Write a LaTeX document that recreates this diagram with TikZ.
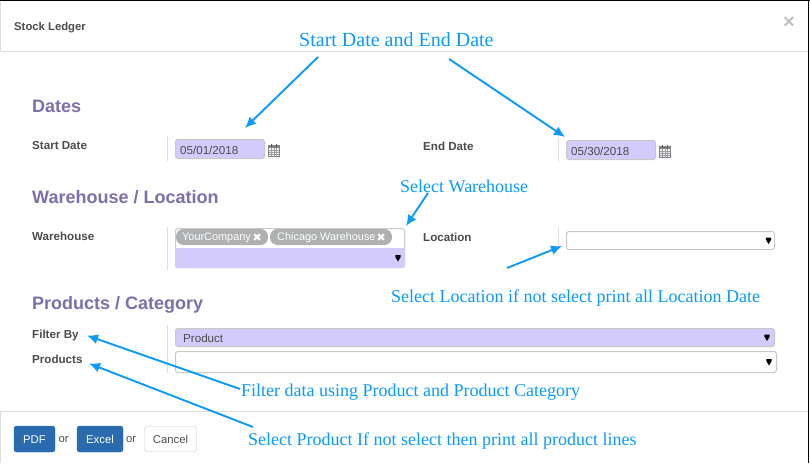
\documentclass[tikz,border=0pt]{standalone}
\usepackage{fontspec}
\setmainfont{Liberation Sans}
\newfontfamily\noteface{Liberation Serif}
\newfontfamily\symface{DejaVu Sans}
\usetikzlibrary{arrows.meta}
\definecolor{headpurple}{RGB}{124,111,171}
\definecolor{lavender}{RGB}{210,203,251}
\definecolor{noteblue}{RGB}{10,155,250}
\definecolor{btnblue}{RGB}{42,106,174}
\definecolor{tagrey}{RGB}{174,176,178}
\definecolor{labelgrey}{RGB}{76,76,76}
\definecolor{rulegrey}{RGB}{222,222,222}
\definecolor{boxgrey}{RGB}{200,200,200}
\tikzset{
	heading/.style={anchor=base west,inner sep=0,text=headpurple,font=\fontsize{18}{18}\selectfont\bfseries},
	fieldlabel/.style={anchor=base west,inner sep=0,text=labelgrey,font=\fontsize{11.6}{12}\selectfont\bfseries},
	note/.style={inner sep=0,anchor=base west,text=noteblue,font=\noteface\fontsize{18}{20}\selectfont},
	callout/.style={draw=noteblue,line width=1.9pt,-{Latex[length=11pt,width=10pt]}},
	plainbox/.style={draw=boxgrey,line width=1pt,rounded corners=2.5pt,inner sep=0,outer sep=0,anchor=north west},
	fillbox/.style={plainbox,fill=lavender},
	boxtext/.style={anchor=base west,inner sep=0,text=labelgrey,font=\fontsize{11.6}{12}\selectfont},
	tag/.style={fill=tagrey,rounded corners=7.5pt,inner sep=0,outer sep=0,anchor=north west},
	tagtext/.style={anchor=base west,inner sep=0,text=white,font=\fontsize{10.9}{12}\selectfont},
	tagcross/.style={anchor=base west,inner sep=0,text=white,font=\symface\fontsize{11}{11}\selectfont},
	button/.style={fill=btnblue,draw=btnblue,rounded corners=2.5pt,inner sep=0,outer sep=0,anchor=north west,text=white,text height=8.2pt,text depth=0pt,align=center,font=\fontsize{11.3}{12}\selectfont},
	orword/.style={anchor=base west,inner sep=0,text=labelgrey,font=\fontsize{11.3}{12}\selectfont},
	calicon/.pic={
		\draw[labelgrey!70,line width=.5pt,fill=lavender!25] (0,1.5) rectangle (10.5,12);
		\fill[labelgrey!70] (0,1.5) rectangle (10.5,4.2);
		\foreach \g in {2.6,5.2,7.9}{
			\draw[labelgrey!55,line width=.35pt] (\g,4.2) -- (\g,12);
		}
		\foreach \g in {6.2,8.2,10.2}{
			\draw[labelgrey!55,line width=.35pt] (0,\g) -- (10.5,\g);
		}
		\draw[labelgrey!90,line width=1pt] (3,0) -- (3,2.5) (7.7,0) -- (7.7,2.5);
	}
}
\begin{document}
\begin{tikzpicture}[x=1pt,y=-1pt]
	\useasboundingbox (0,0) rectangle (810,463);
	\fill[white] (0,0) rectangle (810,463);

	%frame of the dialog
	\draw[black,line width=1.2pt] (0,.6) -- (810,.6);
	\draw[black,line width=1.2pt] (808.6,0) -- (808.6,463);
	\draw[rulegrey,line width=1pt] (.5,1) -- (.5,51);
	\draw[rulegrey,line width=1pt] (.5,411) -- (.5,463);
	\draw[rulegrey,line width=1pt] (0,51.5) -- (808,51.5);
	\draw[rulegrey,line width=1pt] (0,411.5) -- (808,411.5);

	\node[anchor=base west,inner sep=0,text=labelgrey,font=\fontsize{11.3}{12}\selectfont\bfseries] (title) at (14,30) {Stock Ledger};
	\node[anchor=base west,inner sep=0,text=black!25,font=\fontsize{20}{20}\selectfont\bfseries] (closex) at (783,28) {×};

	%section headings
	\node[heading] (dates) at (32,112) {Dates};
	\node[heading] (warehead) at (32,203) {Warehouse / Location};
	\node[heading] (prodhead) at (32,309) {Products / Category};

	%labels on the left of each field
	\node[fieldlabel] (startlabel) at (32,149) {Start Date};
	\node[fieldlabel] (endlabel) at (423,150) {End Date};
	\node[fieldlabel] (warelabel) at (32,240) {Warehouse};
	\node[fieldlabel] (loclabel) at (423,241) {Location};
	\node[fieldlabel] (filterlabel) at (32,338) {Filter By};
	\node[fieldlabel] (prodlabel) at (32,363) {Products};

	%separators
	\foreach \x/\a/\b in {167.5/136/161,558.5/137/162,167.5/227/270,558.5/228/249,167.5/325/373}{
		\draw[rulegrey,line width=1pt] (\x,\a) -- (\x,\b);
	}

	%date fields
	\node[fillbox,minimum width=89pt,minimum height=19pt] (startbox) at (175.5,139.5) {};
	\node[boxtext] (starttext) at (180,154) {05/01/2018};
	\node[fillbox,minimum width=89pt,minimum height=19pt] (endbox) at (566.5,140.5) {};
	\node[boxtext] (endtext) at (571,155) {05/30/2018};
	\pic at (268.5,144) {calicon};
	\pic at (659.5,145) {calicon};

	%warehouse with its two tags
	\node[plainbox,minimum width=229pt,minimum height=39pt] (warebox) at (175.5,228.5) {};
	\fill[lavender,rounded corners=2.5pt] (175,248) rectangle (405,268);
	\node[tag,minimum width=92pt,minimum height=16pt] (tagone) at (176,229) {};
	\node[tag,minimum width=122pt,minimum height=16pt] (tagtwo) at (270,229) {};
	\node[tagtext] (tagonetext) at (182,240.5) {YourCompany};
	\node[tagcross] (tagonecross) at (252.5,241) {✖};
	\node[tagtext] (tagtwotext) at (277,240.5) {Chicago Warehouse};
	\node[tagcross] (tagtwocross) at (376.5,241) {✖};

	\node[plainbox,minimum width=208pt,minimum height=18pt] (locbox) at (566.5,231.5) {};
	\node[fillbox,minimum width=599pt,minimum height=18pt] (filterbox) at (175.5,328.5) {};
	\node[boxtext] (filtertext) at (183,342) {Product};
	\node[plainbox,minimum width=601pt,minimum height=21pt] (prodbox) at (175.5,351.5) {};

	%little arrows of the drop downs
	\foreach \x/\y in {398/258,768.5/240.5,767/337.5,769/362}{
		\fill[black] (\x-2.7,\y-3) -- (\x+2.7,\y-3) -- (\x+2.7,\y-1) -- (\x,\y+3.5) -- (\x-2.7,\y-1) -- cycle;
	}

	%buttons
	\node[button,minimum width=41pt,minimum height=26pt] (pdfbtn) at (14,426) {PDF};
	\node[orword] (orone) at (58.5,442) {or};
	\node[button,minimum width=46pt,minimum height=26pt] (excelbtn) at (77,426) {Excel};
	\node[orword] (ortwo) at (126,442) {or};
	\node[button,fill=white,draw=boxgrey,text=labelgrey,minimum width=52pt,minimum height=25pt] (cancelbtn) at (144.5,426.5) {Cancel};

	%notes in blue
	\node[note,font=\noteface\fontsize{20}{20}\selectfont] (notedates) at (299,46) {Start Date and End Date};
	\node[note] (noteware) at (400,192) {Select Warehouse};
	\node[note] (noteloc) at (391,302) {Select Location if not select print all Location Date};
	\node[note] (notefilter) at (241,396) {Filter data using Product and Product Category};
	\node[note] (noteprod) at (248,445) {Select Product If not select then print all product lines};

	%putting arrows:
	\coordinate (fromstart) at (318,57);
	\coordinate (tostart) at (245,128);
	\coordinate (fromend) at (449,59);
	\coordinate (toend) at (565,137);
	\coordinate (fromware) at (428,193);
	\coordinate (toware) at (406,226);
	\coordinate (fromloc) at (507,268);
	\coordinate (toloc) at (562,246);
	\coordinate (fromfilter) at (240,389);
	\coordinate (tofilter) at (87,335.5);
	\coordinate (fromprod) at (253,427);
	\coordinate (toprod) at (89,363.5);
	\draw[callout] (fromstart) -- (tostart);
	\draw[callout] (fromend) -- (toend);
	\draw[callout] (fromware) -- (toware);
	\draw[callout] (fromloc) -- (toloc);
	\draw[callout] (fromfilter) -- (tofilter);
	\draw[callout] (fromprod) -- (toprod);
\end{tikzpicture}
\end{document}
